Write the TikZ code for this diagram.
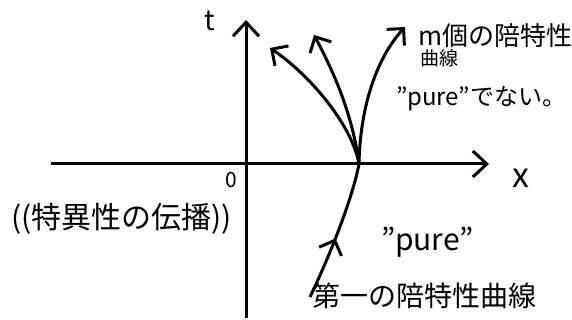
\documentclass[tikz,border=0pt]{standalone}
\usepackage{fontspec}
\setmainfont{Noto Sans CJK JP}
\usetikzlibrary{arrows.meta, decorations.markings}

\tikzset{
  axis/.style={line width=3pt, -{Straight Barb[length=14pt, width=26pt]}},
  bichar/.style={line width=3pt, -{Straight Barb[length=12pt, width=24pt]}},
  txt/.style={inner sep=0pt, anchor=base west}
}

\begin{document}
\begin{tikzpicture}[x=1pt, y=-1pt]
    \useasboundingbox (0,0) rectangle (572,320);

    % axes
    \coordinate (tb) at (246,318);
    \coordinate (tt) at (246,20);
    \coordinate (xl) at (51,164);
    \coordinate (xr) at (489,164);
    \draw[axis] (tb) -- (tt);
    \draw[axis] (xl) -- (xr);
    \node[inner sep=0pt, anchor=base, font=\fontsize{28}{30}\selectfont] (t) at (210,31) {t};
    \node[inner sep=0pt, anchor=base, font=\fontsize{34}{36}\selectfont] (x) at (521,188) {x};
    \node[inner sep=0pt, anchor=base, font=\fontsize{21}{23}\selectfont] (o) at (231,188) {0};

    % m bicharacteristic curves from one point
    \coordinate (p) at (359,164);
    \coordinate (c1) at (270,48);
    \coordinate (c2) at (314,35);
    \coordinate (c3) at (405,27);
    \draw[bichar] (p) .. controls (352,125) and (310,75) .. (c1);
    \draw[bichar] (p) .. controls (352,110) and (330,65) .. (c2);
    \draw[bichar] (p) .. controls (360,110) and (375,60) .. (c3);

    % first bicharacteristic curve
    \coordinate (s) at (310,297);
    \draw[line width=3pt, postaction={decorate},
          decoration={markings, mark=at position 0.45 with {\arrow{Straight Barb[length=12pt, width=24pt]}}}]
        (s) .. controls (330,255) and (352,200) .. (p);

    % labels
    \node[txt, font=\fontsize{26}{28}\selectfont] (m) at (418,46) {m個の陪特性};
    \node[txt, font=\fontsize{19}{21}\selectfont] (m2) at (420,66) {曲線};
    \node[txt, font=\fontsize{24}{26}\selectfont] (np) at (396,106) {"pure"でない。};
    \node[txt, font=\fontsize{30}{32}\selectfont] (pu) at (381,250) {"pure"};
    \node[txt, font=\fontsize{28}{30}\selectfont] (first) at (312,306) {第一の陪特性曲線};
    \node[txt, font=\fontsize{30}{32}\selectfont] (prop) at (11,229) {((特異性の伝播))};
\end{tikzpicture}
\end{document}
